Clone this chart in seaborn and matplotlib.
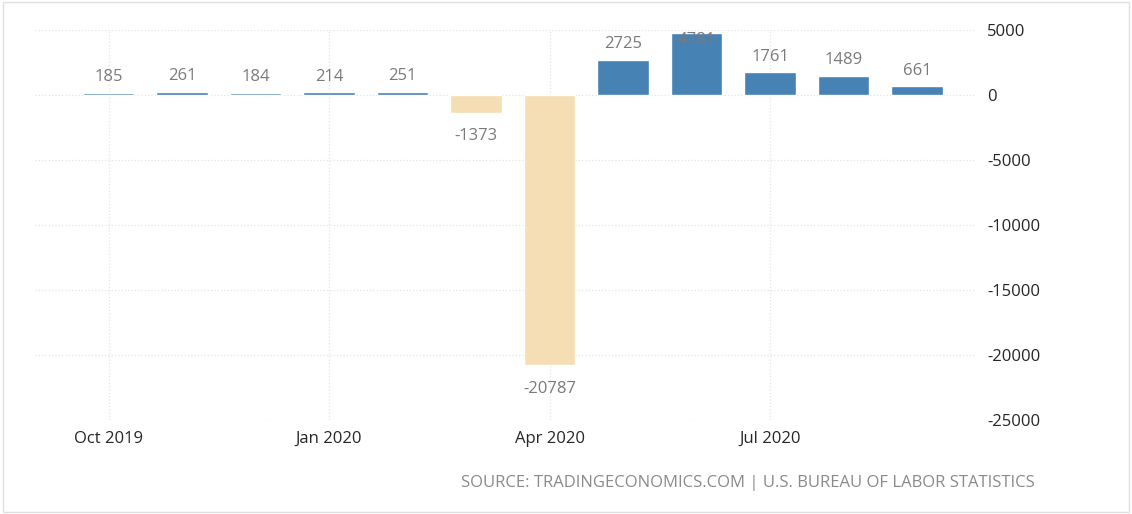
import matplotlib
matplotlib.use("Agg")
import matplotlib.pyplot as plt
import seaborn as sns
import pandas as pd

months = ["Oct 2019", "Nov 2019", "Dec 2019", "Jan 2020", "Feb 2020", "Mar 2020",
          "Apr 2020", "May 2020", "Jun 2020", "Jul 2020", "Aug 2020", "Sep 2020"]
values = [185, 261, 184, 214, 251, -1373, -20787, 2725, 4781, 1761, 1489, 661]
tick_labels = ["Oct 2019", "Jan 2020", "Apr 2020", "Jul 2020"]
y_ticks = [5000, 0, -5000, -10000, -15000, -20000, -25000]

df = pd.DataFrame({"month": months, "value": values})
colors = ["#4682b4" if v >= 0 else "#f5deb3" for v in values]

sns.set_style("white")
plt.rcParams["font.family"] = ["Open Sans", "DejaVu Sans"]

fig = plt.figure(figsize=(11.32, 5.14), dpi=100)
ax = fig.add_axes([35 / 1132, 94 / 514, 941 / 1132, 390 / 514])
sns.barplot(data=df, x="month", y="value", hue="month", palette=colors,
            legend=False, width=0.7, ax=ax, saturation=1)

ax.set_ylim(-25000, 5000)
ax.set_xlim(-1, 11.8)
ax.yaxis.tick_right()
ax.set_yticks(y_ticks)
ax.set_yticklabels([str(t) for t in y_ticks], fontsize=12)
ax.set_xticks([months.index(m) for m in tick_labels])
ax.set_xticklabels(tick_labels, fontsize=12)
ax.tick_params(length=0, pad=8)
ax.set_xlabel("")
ax.set_ylabel("")
ax.grid(True, color="#e4e4e4", linestyle=":", linewidth=0.9)
ax.set_axisbelow(True)
for s in ax.spines.values():
    s.set_visible(False)

for i, v in enumerate(values):
    if v == max(values):
        ax.text(i, 4200, str(v), ha="center", va="center", color="#7a7a7a", fontsize=12)
    elif v >= 0:
        ax.text(i, v + 1200, str(v), ha="center", va="center", color="#7a7a7a", fontsize=12)
    else:
        ax.text(i, v - 1800, str(v), ha="center", va="center", color="#7a7a7a", fontsize=12)

fig.text(1035 / 1132, 1 - 483 / 514, "SOURCE: TRADINGECONOMICS.COM | U.S. BUREAU OF LABOR STATISTICS",
         ha="right", va="center", color="#8a8a8a", fontsize=12)
fig.patches.append(plt.Rectangle((0.003, 0.004), 0.994, 0.992, transform=fig.transFigure,
                                 fill=False, edgecolor="#e0e0e0", linewidth=1))
fig.savefig("out.png", dpi=100)
